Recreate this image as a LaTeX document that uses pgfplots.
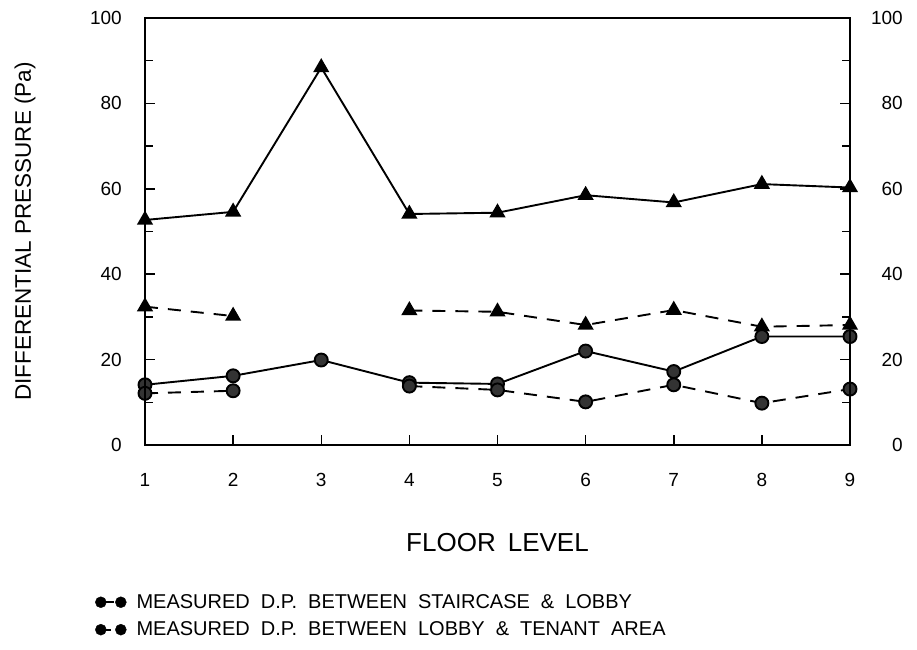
\documentclass[border=0pt]{standalone}
\usepackage{fontspec}
\setmainfont{Liberation Sans}
\usepackage{pgfplots}
\pgfplotsset{compat=1.18}
\newcommand\wsp{\hspace{11bp}}
\begin{document}
\begin{tikzpicture}
\useasboundingbox (-145bp,-205bp) rectangle (772bp,445bp);
\pgfplotsset{
  common/.style={
    at={(0,0)}, anchor=south west,
    scale only axis, width=705bp, height=427bp,
    xmin=1, xmax=9, ymin=0, ymax=100,
    ytick={0,20,...,100}, minor ytick={10,30,...,90},
    axis line style={line width=1.8bp},
    tick style={line width=1.5bp, black},
    major tick length=10bp, minor tick length=8bp,
    tick align=inside,
    /pgf/number format/assume math mode=true,
    ticklabel style={font=\fontsize{19bp}{21bp}\selectfont, inner sep=0pt},
  }
}
\begin{axis}[common,
  xtick={1,...,9}, xtick pos=bottom, ytick pos=left,
  xticklabel style={anchor=north, yshift=-28bp},
  yticklabel style={anchor=east, xshift=-23bp},
  xlabel={FLOOR\hspace{12bp}LEVEL},
  xlabel style={at={(axis description cs:0.5,-0.2295)}, anchor=center, font=\fontsize{26bp}{28bp}\selectfont},
  ylabel={DIFFERENTIAL PRESSURE (Pa)},
  ylabel style={at={(axis description cs:-0.1702,0.5)}, anchor=center, font=\fontsize{22.5bp}{24bp}\selectfont},
  unbounded coords=jump,
  legend style={at={(axis description cs:-0.071,-0.345)}, anchor=north west, draw=none, fill=none,
    font=\fontsize{20bp}{22bp}\selectfont, row sep=8bp, inner sep=0pt, cells={anchor=west}},
]
% solid triangles
\addplot[black, line width=1.9bp, mark=triangle*, mark size=7.5bp, mark options={solid, fill=black}, forget plot]
 coordinates {(1,52.7) (2,54.6) (3,88.4) (4,54.1) (5,54.4) (6,58.5) (7,56.8) (8,61.1) (9,60.3)};
% dashed triangles
\addplot[black, line width=1.9bp, dash pattern=on 13bp off 10bp, mark=triangle*, mark size=7.5bp, mark options={solid, fill=black}, forget plot]
 coordinates {(1,32.4) (2,30.2) (3,nan) (4,31.5) (5,31.2) (6,28.1) (7,31.6) (8,27.7) (9,28.1)};
% solid circles
\addplot[black, line width=1.9bp, mark=*, mark size=6.5bp, mark options={solid, fill=black!80}, forget plot]
 coordinates {(1,14.1) (2,16.2) (3,19.9) (4,14.6) (5,14.3) (6,22.0) (7,17.2) (8,25.4) (9,25.4)};
% dashed circles
\addplot[black, line width=1.9bp, dash pattern=on 13bp off 10bp, mark=*, mark size=6.5bp, mark options={solid, fill=black!80}, forget plot]
 coordinates {(1,12.1) (2,12.7) (3,nan) (4,13.8) (5,12.9) (6,10.1) (7,14.1) (8,9.8) (9,13.1)};
\addlegendimage{legend image code/.code={
  \draw[black, line width=2bp] (10bp,0) -- (18bp,0);
  \fill[black] (5bp,0) circle (5.5bp); \fill[black] (25bp,0) circle (5.5bp);}}
\addlegendentry{\hspace{8bp}MEASURED\wsp D.P.\wsp BETWEEN\wsp STAIRCASE\wsp \&\wsp LOBBY}
\addlegendimage{legend image code/.code={
  \draw[black, line width=2bp] (5bp,0) -- (15bp,0);
  \fill[black] (5bp,0) circle (5.5bp); \fill[black] (25bp,0) circle (5.5bp);}}
\addlegendentry{\hspace{8bp}MEASURED\wsp D.P.\wsp BETWEEN\wsp LOBBY\wsp \&\wsp TENANT\wsp AREA}
\end{axis}
\begin{axis}[common,
  xtick=\empty, ytick pos=right, yticklabel pos=right,
  yticklabel style={anchor=east, xshift=53bp},
]
\end{axis}
\end{tikzpicture}
\end{document}
